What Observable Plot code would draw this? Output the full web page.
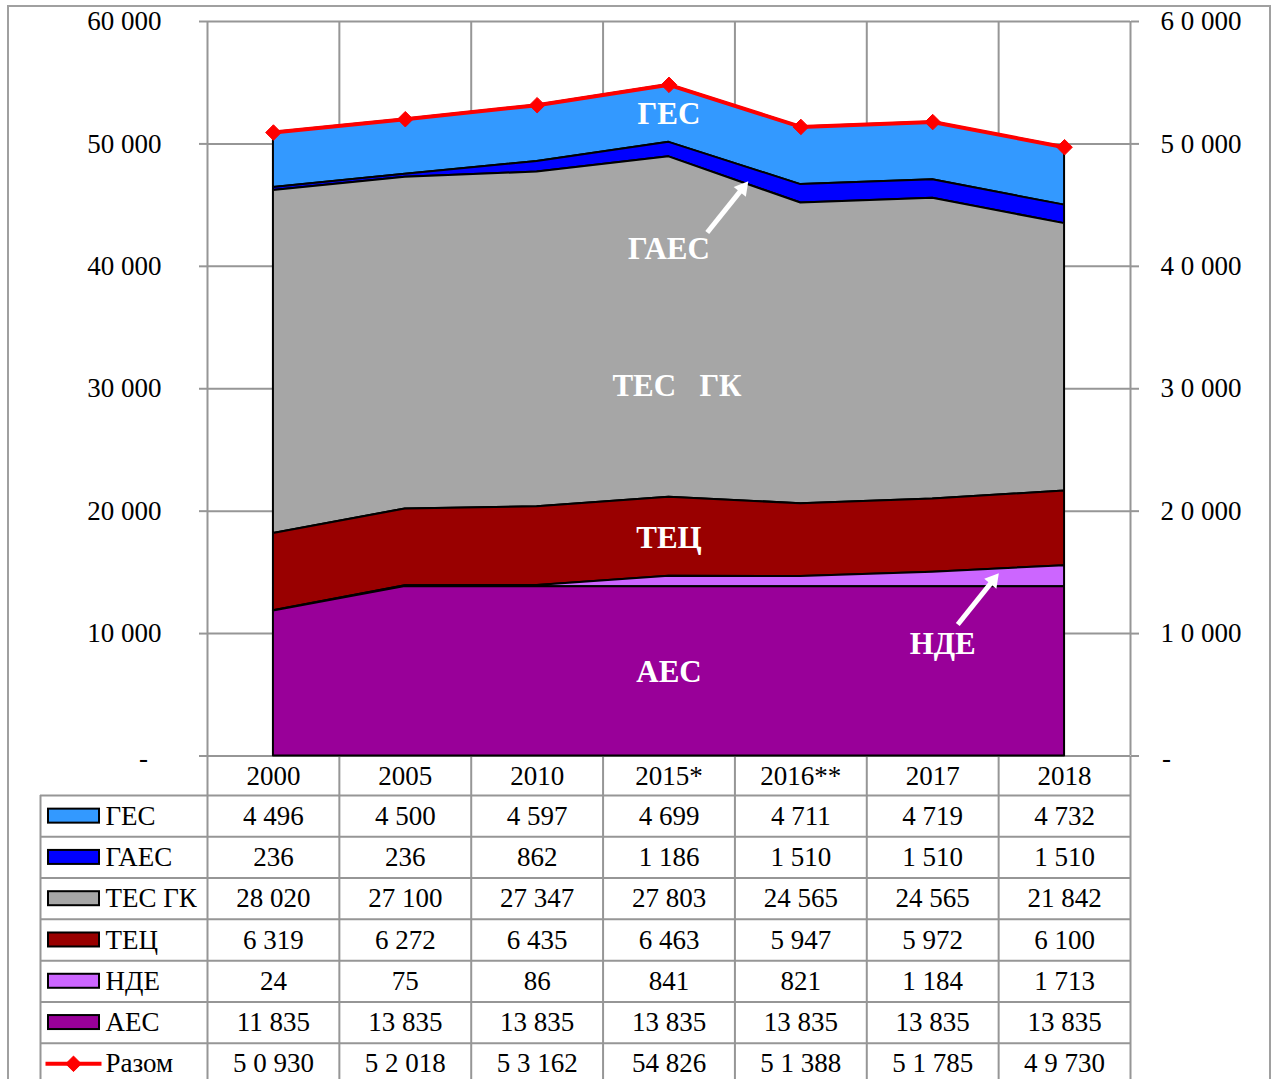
<!DOCTYPE html>
<html><head><meta charset="utf-8">
<script src="https://cdn.jsdelivr.net/npm/d3@7"></script>
<script src="https://cdn.jsdelivr.net/npm/@observablehq/plot@0.6"></script>
<style>
body{margin:0;background:#fff;}
#wrap{position:relative;width:1277px;height:1079px;overflow:hidden;background:#fff;}
#frame{position:absolute;left:7px;top:5px;width:1264px;height:1120px;border:2px solid #a0a0a0;box-sizing:border-box;}
#chart,#table{position:absolute;left:0;}
#chart{top:0;}
#table{top:756px;}
</style></head><body>
<div id="wrap"><div id="frame"></div><div id="table"></div><div id="chart"></div></div>
<script>
// ---------- data ----------
const years = ["2000","2005","2010","2015*","2016**","2017","2018"];
const series = ["ГЕС","ГАЕС","ТЕС ГК","ТЕЦ","НДЕ","АЕС"];
const ges   = [4496,4500,4597,4699,4711,4719,4732];
const gaes  = [236,236,862,1186,1510,1510,1510];
const tesGK = [28020,27100,27347,27803,24565,24565,21842];
const tec   = [6319,6272,6435,6463,5947,5972,6100];
const nde   = [24,75,86,841,821,1184,1713];
const aes   = [11835,13835,13835,13835,13835,13835,13835];
const total = [50930,52018,53162,54826,51388,51785,49730];
const totalLabels = ["5 0 930","5 2 018","5 3 162","54 826","5 1 388","5 1 785","4 9 730"];
const totalName = "Разом";
const yTicks = [0,10000,20000,30000,40000,50000,60000];
const leftTickLabels  = ["-","10 000","20 000","30 000","40 000","50 000","60 000"];
const rightTickLabels = ["-","1 0 000","2 0 000","3 0 000","4 0 000","5 0 000","6 0 000"];
const colors = ["#3399FF","#0000FF","#A6A6A6","#990000","#CC66FF","#990099"];
const stackOrder = ["АЕС","НДЕ","ТЕЦ","ТЕС ГК","ГАЕС","ГЕС"];

// ---------- derived ----------
const valuesBySeries = [ges,gaes,tesGK,tec,nde,aes];
const long = series.flatMap((s,k)=>years.map((y,i)=>({i, year:y, series:s, value:valuesBySeries[k][i]})));
const fmt = d3.formatLocale({thousands:"\u00a0", grouping:[3], decimal:",", currency:["",""]}).format(",");
const FONT = "Liberation Serif, Times New Roman, serif";
const GRID = "#969696";
const colEdges = d3.range(8).map(k=>k-0.5);

function arrowParts(tail, tip){
  const f = 0.15;
  const end = {i: tip.i - f*(tip.i-tail.i), v: tip.v - f*(tip.v-tail.v)};
  return {tail, tip, end};
}
const arrows = [
  arrowParts({i:3.29, v:42760},{i:3.60, v:46930}),
  arrowParts({i:5.19, v:10740},{i:5.50, v:14910})
];

const W = 1277, H = 790, ML = 207, MR = 147, MT = 21, Y0 = 755.5;
const chart = Plot.plot({
  width:W, height:H, marginLeft:ML, marginRight:MR, marginTop:MT, marginBottom:H-Y0,
  x:{domain:[-0.5,6.5], range:[ML, W-MR], axis:null},
  y:{domain:[0,60000], range:[Y0, MT], label:null},
  color:{domain:series, range:colors},
  style:{background:"transparent", overflow:"visible", fontFamily:FONT, color:"black"},
  marks:[
    Plot.ruleY(yTicks, {x1:-0.5, x2:6.5, stroke:GRID, strokeWidth:2}),
    Plot.ruleX(colEdges, {y1:0, y2:60000, stroke:GRID, strokeWidth:2}),
    Plot.axisY(yTicks, {anchor:"left", label:null, tickSize:8, tickPadding:38, stroke:GRID, strokeWidth:2,
      tickFormat:d=> d===0 ? "" : leftTickLabels[yTicks.indexOf(d)], fontSize:27, fontFamily:FONT, fill:"black"}),
    Plot.axisY(yTicks, {anchor:"right", label:null, tickSize:8, tickPadding:22, stroke:GRID, strokeWidth:2,
      tickFormat:d=> d===0 ? "" : rightTickLabels[yTicks.indexOf(d)], fontSize:27, fontFamily:FONT, fill:"black"}),
    Plot.text([leftTickLabels[0]], {x:-0.5, y:0, dx:-64, dy:2, fontSize:27, fontFamily:FONT, fill:"black"}),
    Plot.text([rightTickLabels[0]], {x:6.5, y:0, dx:36, dy:2, fontSize:27, fontFamily:FONT, fill:"black"}),
    Plot.areaY(long, {x:"i", y:"value", z:"series", fill:"series", order:stackOrder,
      stroke:"black", strokeWidth:2, strokeLinejoin:"round"}),
    Plot.line(total, {x:(d,i)=>i, y:d=>d, stroke:"#FF0000", strokeWidth:4}),
    Plot.dot(total, {x:(d,i)=>i, y:d=>d, symbol:"diamond2", r:7, fill:"#FF0000", stroke:"#FF0000", strokeWidth:1}),
    // annotations
    Plot.text(["ГЕС"],  {x:3, y:52400, fill:"white", fontWeight:"bold", fontSize:31, fontFamily:FONT}),
    Plot.text(["ГАЕС"], {x:3, y:41450, fill:"white", fontWeight:"bold", fontSize:31, fontFamily:FONT}),
    Plot.text(["ТЕС\u00a0\u00a0\u00a0ГК"], {x:3, y:30180, dx:8, fill:"white", fontWeight:"bold", fontSize:31, fontFamily:FONT}),
    Plot.text(["ТЕЦ"],  {x:3, y:17770, fill:"white", fontWeight:"bold", fontSize:31, fontFamily:FONT}),
    Plot.text(["АЕС"],  {x:3, y:6820, fill:"white", fontWeight:"bold", fontSize:31, fontFamily:FONT}),
    Plot.text(["НДЕ"],  {x:5, y:9110, dx:10, fill:"white", fontWeight:"bold", fontSize:31, fontFamily:FONT}),
    Plot.link(arrows, {x1:d=>d.tail.i, y1:d=>d.tail.v, x2:d=>d.end.i, y2:d=>d.end.v, stroke:"white", strokeWidth:5}),
    Plot.dot(arrows, {x:d=>d.tip.i, y:d=>d.tip.v, dx:-5.5, dy:6.8, symbol:"triangle", r:5.8, rotate:39, fill:"white"})
  ]
});
document.getElementById("chart").appendChild(chart);

// ---------- table ----------
const step = (W-MR-ML)/7;
const px = p => -0.5 + (p-ML)/step;
const rowH = (1042.7-795)/6;
const rowNames = [...series, totalName];
const cells = [];
valuesBySeries.forEach((arr,k)=>arr.forEach((v,i)=>cells.push({i, row:k, label:fmt(v)})));
totalLabels.forEach((t,i)=>cells.push({i, row:6, label:t}));

const table = Plot.plot({
  width:W, height:323, marginLeft:ML, marginRight:MR, marginTop:0, marginBottom:0,
  x:{domain:[-0.5,6.5], range:[ML, W-MR], axis:null},
  y:{domain:[0,7], range:[39, 39+7*rowH], axis:null},
  color:{domain:series, range:colors},
  style:{background:"transparent", fontFamily:FONT, color:"black"},
  marks:[
    Plot.ruleY(d3.range(8), {x1:()=>px(40), x2:6.5, stroke:GRID, strokeWidth:2}),
    Plot.ruleX(colEdges, {y1:-1, y2:8, stroke:GRID, strokeWidth:2}),
    Plot.ruleX([px(40)], {y1:0, y2:8, stroke:GRID, strokeWidth:2}),
    Plot.rect(series, {x1:()=>px(48), x2:()=>px(99), y1:(d,i)=>i+0.5-7/rowH, y2:(d,i)=>i+0.5+7/rowH,
      fill:d=>d, stroke:"black", strokeWidth:2}),
    Plot.link([totalName], {x1:()=>px(45), x2:()=>px(101), y1:6.5, y2:6.5, stroke:"#FF0000", strokeWidth:4}),
    Plot.dot([totalName], {x:()=>px(73), y:6.5, symbol:"diamond2", r:7, fill:"#FF0000", stroke:"#FF0000", strokeWidth:1}),
    Plot.text(rowNames, {x:()=>px(105), y:(d,i)=>i+0.5, textAnchor:"start", fontSize:27, fontFamily:FONT, fill:"black"}),
    Plot.text(cells, {x:"i", y:d=>d.row+0.5, text:"label", fontSize:27, fontFamily:FONT, fill:"black"}),
    Plot.text(years, {x:(d,i)=>i, y:()=>(20-39)/rowH, fontSize:27, fontFamily:FONT, fill:"black"})
  ]
});
document.getElementById("table").appendChild(table);
</script>
</body></html>
